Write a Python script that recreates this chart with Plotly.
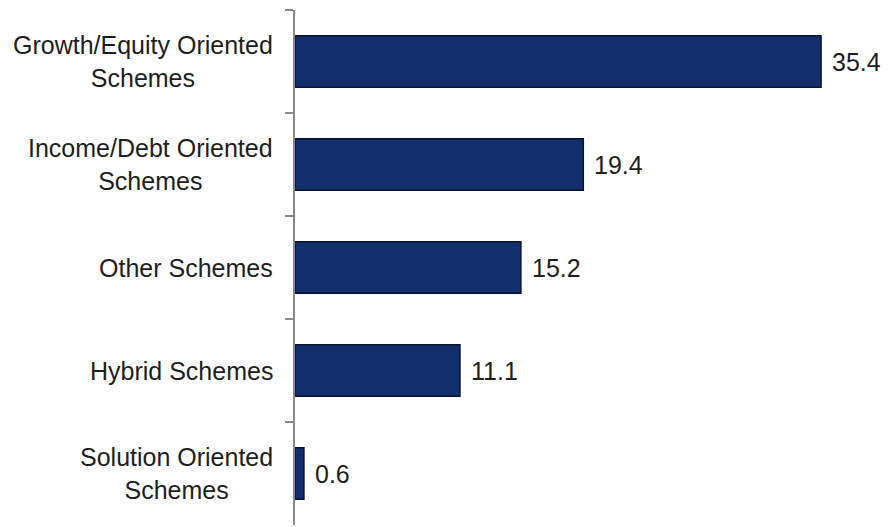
import plotly.graph_objects as go

categories = [
    "Growth/Equity Oriented<br>Schemes",
    "Income/Debt Oriented<br>Schemes",
    "Other Schemes",
    "Hybrid Schemes",
    "Solution Oriented<br>Schemes",
]
values = [35.4, 19.4, 15.2, 11.1, 0.6]

FONT = "Arial, Liberation Sans, Helvetica, sans-serif"
TEXT_COLOR = "#1e1e1e"

fig = go.Figure(
    go.Bar(
        x=values,
        y=categories,
        orientation="h",
        marker=dict(color="#132e6c", line=dict(color="#0a1230", width=1.5)),
        hoverinfo="skip",
    )
)

annotations = []
# category labels, centred line by line, to the left of the axis
for cat in categories:
    annotations.append(dict(
        x=0, y=cat, xref="x", yref="y", text=cat,
        xanchor="right", yanchor="middle", align="center", xshift=-20,
        showarrow=False, font=dict(family=FONT, size=25, color=TEXT_COLOR),
    ))
# value labels beyond each bar end
for cat, v in zip(categories, values):
    annotations.append(dict(
        x=v, y=cat, xref="x", yref="y", text=f"{v}",
        xanchor="left", yanchor="middle", xshift=9,
        showarrow=False, font=dict(family=FONT, size=25, color=TEXT_COLOR),
    ))

fig.update_layout(
    width=888, height=527,
    margin=dict(l=295, r=6, t=10, b=2),
    paper_bgcolor="white", plot_bgcolor="white",
    bargap=0.5,
    showlegend=False,
    annotations=annotations,
    xaxis=dict(range=[0, 39.5], visible=False, fixedrange=True),
    yaxis=dict(
        categoryorder="array", categoryarray=categories, autorange="reversed",
        showticklabels=False, tickson="boundaries", ticks="outside",
        ticklen=8, tickcolor="#8a8a8a", tickwidth=1.5,
        showline=True, linecolor="#8a8a8a", linewidth=1.5,
        showgrid=False, zeroline=False, fixedrange=True,
    ),
)

fig.write_html("out.html")
